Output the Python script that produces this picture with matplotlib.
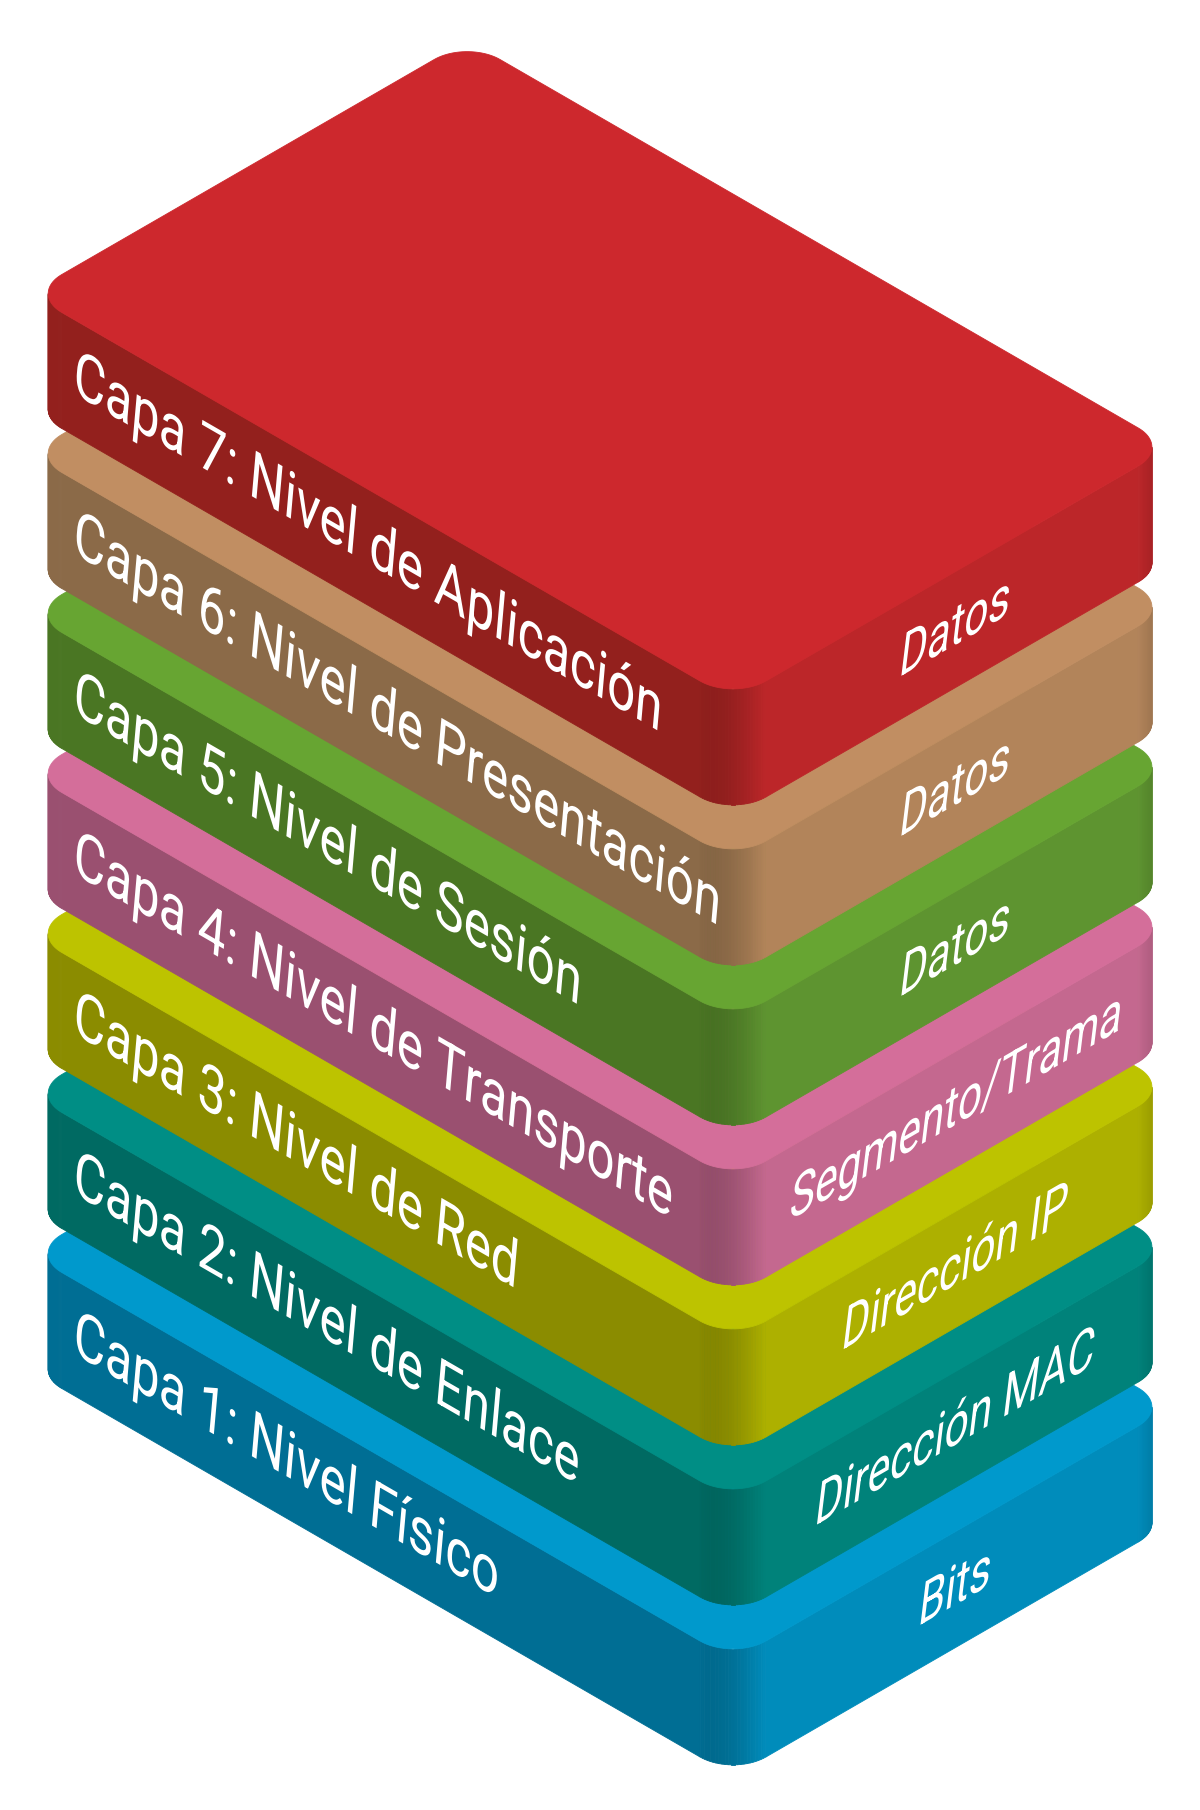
#
# python3 plot.py  -> out.png (modelo OSI en capas isometricas)
#
import numpy as np
import matplotlib.pyplot as plt
from matplotlib.patches import Polygon, PathPatch
from matplotlib.textpath import TextPath
from matplotlib.font_manager import FontProperties
from matplotlib.transforms import Affine2D
from matplotlib.colors import to_rgb

# capas, de abajo hacia arriba
capas = ["Capa 1: Nivel Físico",
         "Capa 2: Nivel de Enlace",
         "Capa 3: Nivel de Red",
         "Capa 4: Nivel de Transporte",
         "Capa 5: Nivel de Sesión",
         "Capa 6: Nivel de Presentación",
         "Capa 7: Nivel de Aplicación"]
unidades = ["Bits", "Dirección MAC", "Dirección IP", "Segmento/Trama",
            "Datos", "Datos", "Datos"]
c_top = ["#0099CC", "#008E85", "#BDC300", "#D46E9A", "#67A532", "#C18E62", "#CD282D"]
c_izq = ["#006E94", "#006A62", "#8B8C00", "#9A5070", "#4A7623", "#8B6A48", "#93201D"]
c_der = ["#008CBB", "#00827A", "#ADB000", "#C4688F", "#5E9430", "#B2845A", "#BC2629"]

# geometria en pixeles
X_FRONT = 733
Y_TOP7 = 700      # esquina frontal (cara superior) de la capa 7
PASO = 160
ALTO = 116
W_A = 813         # borde frontal izquierdo
W_B = 506         # borde frontal derecho
R = 38
C30, S30 = np.cos(np.pi / 6), np.sin(np.pi / 6)

fp = FontProperties(family=["Roboto", "DejaVu Sans"])
# (tamano, compresion horizontal, inclinacion) por cara
TXT_IZQ = (64, 0.88, np.tan(np.radians(5)))
TXT_DER = (61, 0.80, np.tan(np.radians(7)))


def proy(a, b, yf):
    return X_FRONT + (b - a) * C30, yf - (a + b) * S30


def arco(ca, cb, t0, t1, n=24):
    th = np.radians(np.linspace(t0, t1, n))
    return ca + R * np.cos(th), cb + R * np.sin(th), np.sin(th) - np.cos(th)


def tono(t, ci, cd):
    ci, cd = np.array(to_rgb(ci)), np.array(to_rgb(cd))
    if t <= -1:
        return ci
    if t >= 1:
        return cd * (1 - 0.10 * (t - 1) / (np.sqrt(2) - 1))
    u = (t + 1) / 2
    col = ci * (1 - u) + cd * u
    return np.clip(col * (1 - 0.10 * np.sin(np.pi * u ** 0.7)), 0, 1)


def texto(ax, s, x0, y0, sgn, estilo, z):
    size, kx, lean = estilo
    tp = TextPath((0, 0), s, size=size, prop=fp)
    tr = Affine2D(np.array([[kx * C30, lean, x0],
                            [sgn * kx * S30, -1, y0],
                            [0, 0, 1]]))
    ax.add_patch(PathPatch(tr.transform_path(tp), fc="white", ec="none", zorder=z))


def ancho(s, estilo):
    ext = TextPath((0, 0), s, size=estilo[0], prop=fp).get_extents()
    return estilo[1] * (ext.x0 + ext.x1) / 2


fig = plt.figure(figsize=(12, 18.1), dpi=100)
ax = fig.add_axes([0, 0, 1, 1])
ax.set_xlim(0, 1200)
ax.set_ylim(1810, 0)
ax.axis("off")

# contorno visible de los lados y contorno de la cara superior
fr = [arco(W_A - R, R, -45, -90), arco(R, R, -90, -180), arco(R, W_B - R, 180, 135)]
fa = np.concatenate([p[0] for p in fr])
fb = np.concatenate([p[1] for p in fr])
ft = np.concatenate([p[2] for p in fr])
tp_ = [arco(R, R, -180, -90), arco(W_A - R, R, -90, 0),
       arco(W_A - R, W_B - R, 0, 90), arco(R, W_B - R, 90, 180)]
ta = np.concatenate([p[0] for p in tp_])
tb = np.concatenate([p[1] for p in tp_])

for i in range(len(capas)):
    yf = Y_TOP7 + (len(capas) - 1 - i) * PASO
    z = 10 * i
    xs, ys = proy(fa, fb, yf)
    for j in range(len(xs) - 1):
        col = tono((ft[j] + ft[j + 1]) / 2, c_izq[i], c_der[i])
        quad = [(xs[j], ys[j]), (xs[j + 1], ys[j + 1]),
                (xs[j + 1], ys[j + 1] + ALTO), (xs[j], ys[j] + ALTO)]
        ax.add_patch(Polygon(quad, closed=True, fc=col, ec=col, lw=0.6, zorder=z + 1))
    xt, yt = proy(ta, tb, yf)
    ax.add_patch(Polygon(np.column_stack([xt, yt]), closed=True,
                         fc=c_top[i], ec=c_top[i], lw=0.6, zorder=z + 2))

    # etiqueta de la cara izquierda
    x0, y0 = proy(W_A - 50, 0, yf)
    texto(ax, capas[i], x0, y0 + 74, 1, TXT_IZQ, z + 3)
    # unidad de datos en la cara derecha (centrada)
    x0, y0 = proy(0, 255 - ancho(unidades[i], TXT_DER), yf)
    texto(ax, unidades[i], x0, y0 + 73, -1, TXT_DER, z + 3)

plt.savefig("out.png", dpi=100)
